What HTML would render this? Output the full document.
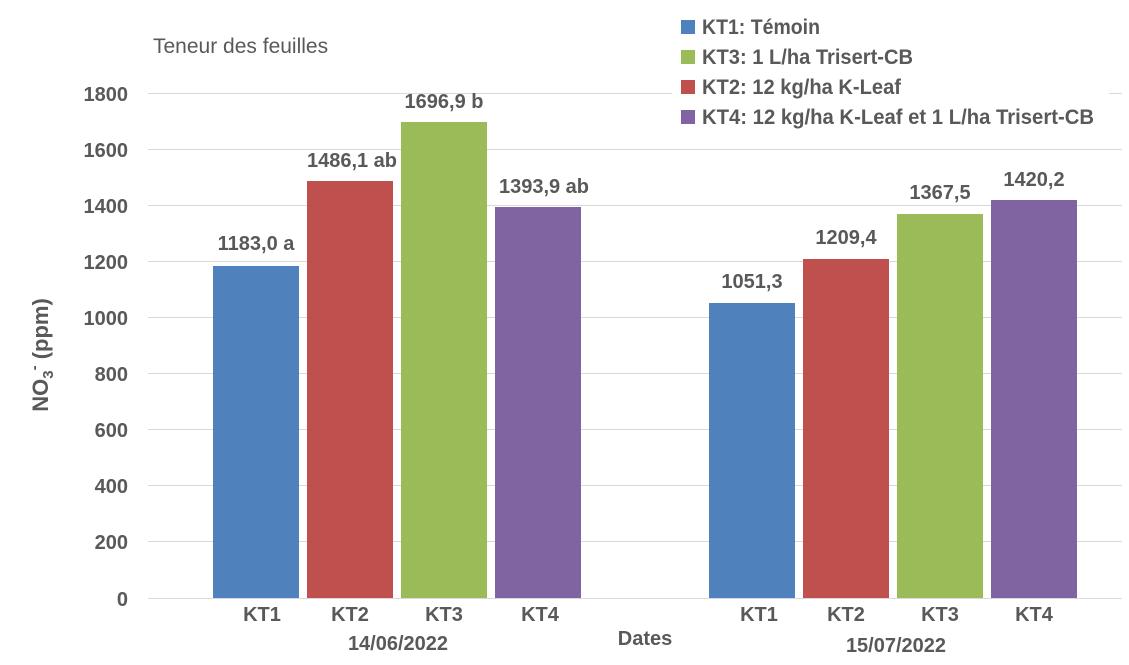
<!DOCTYPE html>
<html><head><meta charset="utf-8"><style>
html,body{margin:0;padding:0;background:#fff;}
svg text{font-family:"Liberation Sans Narrow","Liberation Sans",sans-serif;font-weight:bold;fill:#595959;}
</style></head><body>
<svg width="1129" height="660" viewBox="0 0 1129 660" xmlns="http://www.w3.org/2000/svg">
<rect width="1129" height="660" fill="#fff"/>
<g stroke="#d9d9d9" stroke-width="1">
<line x1="148" x2="1122" y1="93.5" y2="93.5"/>
<line x1="148" x2="1122" y1="149.5" y2="149.5"/>
<line x1="148" x2="1122" y1="205.5" y2="205.5"/>
<line x1="148" x2="1122" y1="261.5" y2="261.5"/>
<line x1="148" x2="1122" y1="317.5" y2="317.5"/>
<line x1="148" x2="1122" y1="373.5" y2="373.5"/>
<line x1="148" x2="1122" y1="429.5" y2="429.5"/>
<line x1="148" x2="1122" y1="485.5" y2="485.5"/>
<line x1="148" x2="1122" y1="541.5" y2="541.5"/>
<line x1="148" x2="1122" y1="598.5" y2="598.5"/>
</g>
<g font-size="20" text-anchor="end">
<text x="128" y="101">1800</text><text x="128" y="157">1600</text><text x="128" y="213">1400</text>
<text x="128" y="269">1200</text><text x="128" y="325">1000</text><text x="128" y="381">800</text>
<text x="128" y="437">600</text><text x="128" y="493">400</text><text x="128" y="549">200</text>
<text x="128" y="606">0</text>
</g>
<text x="153" y="53" font-size="21" style="font-weight:normal;font-family:'Liberation Sans',sans-serif" fill="#404040">Teneur des feuilles</text>
<text transform="translate(48,355) rotate(-90)" font-size="22" text-anchor="middle">NO<tspan font-size="15" dy="5">3</tspan><tspan font-size="15" dy="-14">-</tspan><tspan dy="9"> (ppm)</tspan></text>
<rect x="213" y="266" width="86" height="332" fill="#4F81BD"/>
<rect x="307" y="181" width="86" height="417" fill="#C0504D"/>
<rect x="401" y="122" width="86" height="476" fill="#9BBB59"/>
<rect x="495" y="207" width="86" height="391" fill="#8064A2"/>
<rect x="709" y="303" width="86" height="295" fill="#4F81BD"/>
<rect x="803" y="259" width="86" height="339" fill="#C0504D"/>
<rect x="897" y="214" width="86" height="384" fill="#9BBB59"/>
<rect x="991" y="200" width="86" height="398" fill="#8064A2"/>
<g font-size="20" text-anchor="middle">
<text x="256" y="250">1183,0 a</text>
<text x="352" y="167">1486,1  ab</text>
<text x="444" y="108">1696,9 b</text>
<text x="544" y="193">1393,9 ab</text>
<text x="752" y="288">1051,3</text>
<text x="846" y="244">1209,4</text>
<text x="940" y="199">1367,5</text>
<text x="1034" y="186">1420,2</text>
<text x="262" y="621">KT1</text><text x="350" y="621">KT2</text><text x="444" y="621">KT3</text><text x="540" y="621">KT4</text>
<text x="759" y="621">KT1</text><text x="846" y="621">KT2</text><text x="940" y="621">KT3</text><text x="1034" y="621">KT4</text>
<text x="398" y="650">14/06/2022</text>
<text x="645" y="645">Dates</text>
<text x="896" y="652">15/07/2022</text>
</g>
<rect x="672" y="10" width="437" height="126" fill="#fff"/>
<rect x="681" y="20" width="14" height="14" fill="#4F81BD"/>
<rect x="681" y="50" width="14" height="14" fill="#9BBB59"/>
<rect x="681" y="80" width="14" height="14" fill="#C0504D"/>
<rect x="681" y="110" width="14" height="14" fill="#8064A2"/>
<g font-size="21">
<text x="702" y="34" textLength="118" lengthAdjust="spacingAndGlyphs">KT1: Témoin</text>
<text x="702" y="64" textLength="211" lengthAdjust="spacingAndGlyphs">KT3: 1 L/ha Trisert-CB</text>
<text x="702" y="94" textLength="199" lengthAdjust="spacingAndGlyphs">KT2: 12 kg/ha K-Leaf</text>
<text x="702" y="124" textLength="392" lengthAdjust="spacingAndGlyphs">KT4: 12 kg/ha K-Leaf et 1 L/ha Trisert-CB</text>
</g>
</svg>
</body></html>
